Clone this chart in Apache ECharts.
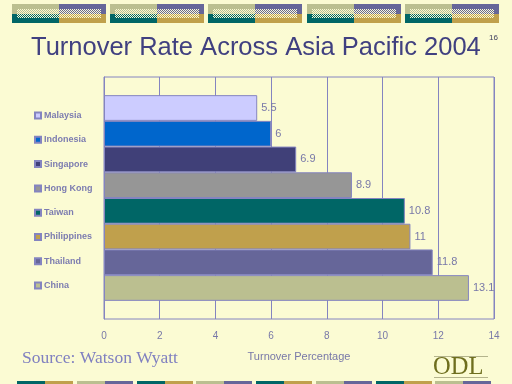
<!DOCTYPE html>
<html><head><meta charset="utf-8">
<script src="https://cdn.jsdelivr.net/npm/echarts@6/dist/echarts.min.js"></script>
<style>html,body{margin:0;padding:0;background:#FBFBD3;}#c{width:512px;height:384px;}</style>
</head><body><div id="c"></div>
<script>
const countries = ['Malaysia','Indonesia','Singapore','Hong Kong','Taiwan','Philippines','Thailand','China'];
const values = [5.5, 6, 6.9, 8.9, 10.8, 11, 11.8, 13.1];
const barColors = ['#CCCCFF','#0066CC','#404078','#969696','#006666','#C0A04C','#666699','#BBBF90'];
const xTicks = [0, 2, 4, 6, 8, 10, 12, 14];

const BG = '#FBFBD3', KHAKI = '#BBBF90', PURPLE = '#666699', TEAL = '#006666', GOLD = '#C0A04C';
const LINE = '#8484C0', TXT = '#7878A8';

function checker(c) {
  const cv = document.createElement('canvas'); cv.width = 2; cv.height = 2;
  const g = cv.getContext('2d');
  g.fillStyle = BG; g.fillRect(0,0,2,2);
  g.fillStyle = c; g.fillRect(0,0,1,1); g.fillRect(1,1,1,1);
  return {image: cv, repeat: 'repeat'};
}

const graphics = [];
// top banners
[12,110,208,307,405].forEach(x => {
  graphics.push({type:'rect', shape:{x:x, y:4, width:47, height:10}, style:{fill:KHAKI}, silent:true});
  graphics.push({type:'rect', shape:{x:x+47, y:4, width:47, height:10}, style:{fill:PURPLE}, silent:true});
  graphics.push({type:'rect', shape:{x:x, y:14, width:47, height:9}, style:{fill:TEAL}, silent:true});
  graphics.push({type:'rect', shape:{x:x+47, y:14, width:47, height:9}, style:{fill:GOLD}, silent:true});
  graphics.push({type:'rect', shape:{x:x+5, y:9, width:42, height:5}, style:{fill:checker(KHAKI)}, silent:true});
  graphics.push({type:'rect', shape:{x:x+47, y:9, width:42, height:5}, style:{fill:checker(PURPLE)}, silent:true});
  graphics.push({type:'rect', shape:{x:x+5, y:14, width:42, height:4}, style:{fill:checker(TEAL)}, silent:true});
  graphics.push({type:'rect', shape:{x:x+47, y:14, width:42, height:4}, style:{fill:checker(GOLD)}, silent:true});
});
// bottom strip
const strip = [[17,TEAL,GOLD],[77,KHAKI,PURPLE],[137,TEAL,GOLD],[196,KHAKI,PURPLE],[256,TEAL,GOLD],[316,KHAKI,PURPLE],[376,TEAL,GOLD],[435,KHAKI,PURPLE]];
strip.forEach(([x,a,b]) => {
  graphics.push({type:'rect', shape:{x:x, y:381, width:28, height:3}, style:{fill:a}, silent:true});
  graphics.push({type:'rect', shape:{x:x+28, y:381, width:28, height:3}, style:{fill:b}, silent:true});
});
// texts
graphics.push({type:'text', left:31, top:35, style:{text:'Turnover Rate Across Asia Pacific 2004', font:'25.5px "Liberation Sans", Arial, sans-serif', fill:'#404080'}});
graphics.push({type:'text', left:489, top:34, style:{text:'16', font:'8px "Liberation Sans", Arial, sans-serif', fill:'#404060'}});
graphics.push({type:'text', left:22, top:349, style:{text:'Source: Watson Wyatt', font:'17.5px "Liberation Serif", "Times New Roman", serif', fill:'#8080C0'}});
graphics.push({type:'text', left:433, top:355, style:{text:'ODL', font:'24.5px "Liberation Serif", "Times New Roman", serif', fill:'#6E6E1E'}});
graphics.push({type:'rect', shape:{x:434, y:356, width:54, height:1}, style:{fill:'#B4B48C'}, silent:true});
graphics.push({type:'rect', shape:{x:434, y:377, width:54, height:1}, style:{fill:'#B4B48C'}, silent:true});

const series = countries.map((name, i) => ({
  name: name,
  type: 'bar',
  data: [values[i]],
  barGap: '0%',
  barCategoryGap: '15%',
  itemStyle: {color: barColors[i], borderColor: LINE, borderWidth: 1},
  label: {show: true, position: 'right', distance: 4, color: TXT, fontSize: 11, fontFamily: '"Liberation Sans", Arial, sans-serif'},
  emphasis: {disabled: true}
}));

const chart = echarts.init(document.getElementById('c'), null, {renderer: 'canvas'});
chart.setOption({
  backgroundColor: BG,
  animation: false,
  grid: {left: 104, right: 18, top: 77, bottom: 65, show: true, borderColor: LINE, borderWidth: 1, backgroundColor: 'transparent'},
  legend: {
    orient: 'vertical', left: 29, top: 106, itemWidth: 6, itemHeight: 6, itemGap: 15.3,
    icon: 'rect', selectedMode: false,
    data: countries,
    textStyle: {color: '#7C7CB0', fontSize: 9, fontWeight: 'bold', fontFamily: '"Liberation Sans", Arial, sans-serif', padding: [0,0,0,-2]}
  },
  xAxis: {
    type: 'value', min: xTicks[0], max: xTicks[xTicks.length-1], interval: 2,
    axisLine: {show: false}, axisTick: {show: false},
    splitLine: {show: true, lineStyle: {color: LINE, width: 1}},
    axisLabel: {color: TXT, fontSize: 10, margin: 12, fontFamily: '"Liberation Sans", Arial, sans-serif'},
    name: 'Turnover Percentage', nameLocation: 'middle', nameGap: 32,
    nameTextStyle: {color: TXT, fontSize: 11, fontFamily: '"Liberation Sans", Arial, sans-serif'}
  },
  yAxis: {
    type: 'category', data: [''], inverse: true,
    axisLine: {show: true, lineStyle: {color: LINE}}, axisTick: {show: false}, axisLabel: {show: false}
  },
  series: series,
  graphic: graphics
});
</script></body></html>
